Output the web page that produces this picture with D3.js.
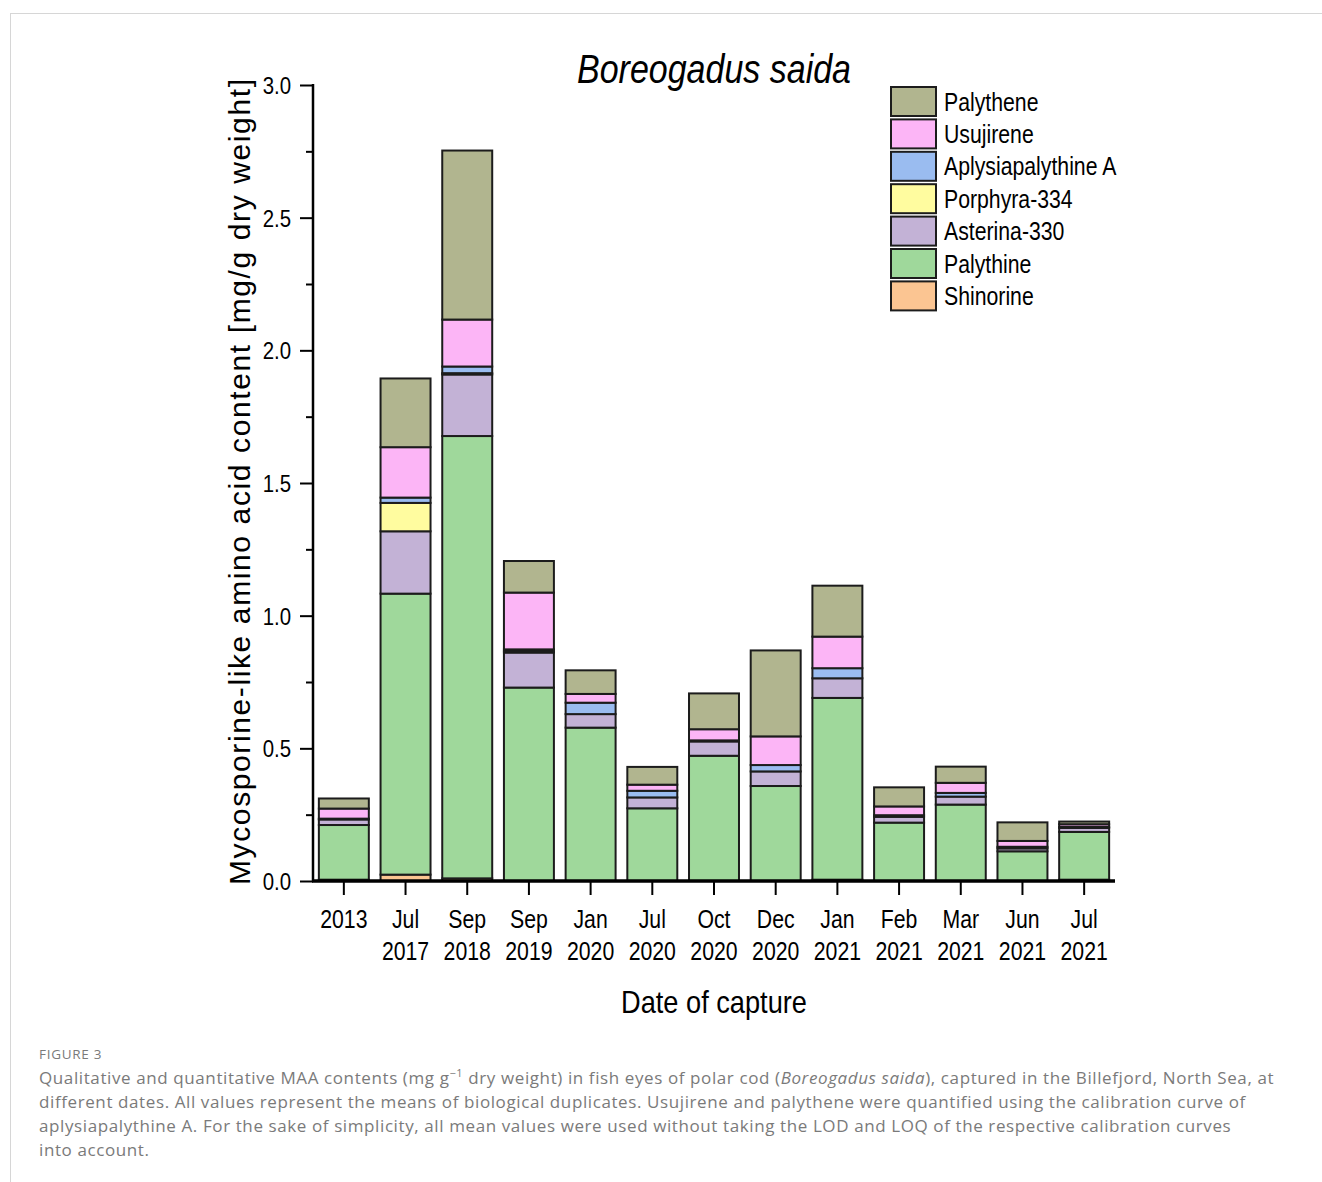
<!DOCTYPE html>
<html>
<head>
<meta charset="utf-8">
<script src="https://cdn.jsdelivr.net/npm/d3@7"></script>
<style>
  html, body { margin: 0; padding: 0; background: #fff; }
  svg { display: block; }
  .narrow { font-family: "Liberation Sans", Arial, sans-serif; }
  .caption { font-family: "Open Sans", "Noto Sans", sans-serif; fill: #7a7a7a; }
</style>
</head>
<body>
<svg id="chart" width="1322" height="1182"></svg>
<script>
// Capture dates (two-line labels)
const dates = [
  ["2013"], ["Jul", "2017"], ["Sep", "2018"], ["Sep", "2019"], ["Jan", "2020"],
  ["Jul", "2020"], ["Oct", "2020"], ["Dec", "2020"], ["Jan", "2021"],
  ["Feb", "2021"], ["Mar", "2021"], ["Jun", "2021"], ["Jul", "2021"]
];

// MAA content per compound, mg/g dry weight (stacked bottom to top)
const shinorine     = [0.005, 0.024, 0.010, 0.000, 0.000, 0.000, 0.000, 0.000, 0.005, 0.000, 0.000, 0.000, 0.005];
const palythine     = [0.206, 1.059, 1.667, 0.729, 0.578, 0.274, 0.472, 0.358, 0.685, 0.220, 0.288, 0.112, 0.180];
const asterina330   = [0.021, 0.235, 0.232, 0.132, 0.051, 0.041, 0.054, 0.055, 0.074, 0.022, 0.030, 0.011, 0.015];
const porphyra334   = [0.000, 0.107, 0.005, 0.005, 0.000, 0.000, 0.000, 0.000, 0.000, 0.000, 0.000, 0.000, 0.000];
const aplysiapalyA  = [0.003, 0.020, 0.025, 0.007, 0.043, 0.025, 0.004, 0.024, 0.038, 0.006, 0.014, 0.006, 0.004];
const usujirene     = [0.038, 0.190, 0.177, 0.214, 0.033, 0.023, 0.042, 0.108, 0.119, 0.033, 0.038, 0.022, 0.010];
const palythene     = [0.038, 0.259, 0.637, 0.119, 0.089, 0.067, 0.135, 0.324, 0.192, 0.072, 0.061, 0.070, 0.010];

const seriesNames = ["Shinorine", "Palythine", "Asterina-330", "Porphyra-334", "Aplysiapalythine A", "Usujirene", "Palythene"];
const seriesValues = [shinorine, palythine, asterina330, porphyra334, aplysiapalyA, usujirene, palythene];
const seriesColors = ["#fbc592", "#9fd89b", "#c3b2d6", "#fffc9f", "#9abcf0", "#fcb5f6", "#b1b58f"];

const yTicks = [0, 0.5, 1.0, 1.5, 2.0, 2.5, 3.0];
const yMinorTicks = [0.25, 0.75, 1.25, 1.75, 2.25, 2.75];

// Horizontal squeeze that gives a condensed sans look
const SQ = 0.85;

const svg = d3.select("#chart");

// Card frame (top and left border)
svg.append("line").attr("x1", 10).attr("x2", 1322).attr("y1", 13.5).attr("y2", 13.5)
  .attr("stroke", "#d6d6d6").attr("stroke-width", 1);
svg.append("line").attr("x1", 10.5).attr("x2", 10.5).attr("y1", 13).attr("y2", 1182)
  .attr("stroke", "#d6d6d6").attr("stroke-width", 1);

const plot = { left: 313, right: 1115, top: 85, bottom: 881 };

const x = d3.scaleBand()
  .domain(d3.range(dates.length))
  .range([plot.left, plot.right])
  .paddingInner(0.19)
  .paddingOuter(0.095);

const y = d3.scaleLinear().domain([0, 3]).range([plot.bottom, plot.top]);

// Condensed text placed at (px, py)
function narrowText(parent, px, py, size, str) {
  return parent.append("text")
    .attr("class", "narrow")
    .attr("transform", `translate(${px},${py}) scale(${SQ},1)`)
    .attr("font-size", size)
    .attr("fill", "#000")
    .text(str);
}

// Stack data
const rows = dates.map((d, i) => {
  const r = { i };
  seriesNames.forEach((n, k) => { r[n] = seriesValues[k][i]; });
  return r;
});
const stacked = d3.stack().keys(seriesNames)(rows);

const barG = svg.append("g");
stacked.forEach((layer, k) => {
  barG.append("g")
    .attr("fill", seriesColors[k])
    .selectAll("rect")
    .data(layer.filter(d => d[1] - d[0] > 0))
    .join("rect")
    .attr("x", d => x(d.data.i))
    .attr("width", x.bandwidth())
    .attr("y", d => y(d[1]))
    .attr("height", d => y(d[0]) - y(d[1]))
    .attr("stroke", "#1c1c1c")
    .attr("stroke-width", 2);
});

// Y axis
const yAxisG = svg.append("g").attr("transform", `translate(${plot.left},0)`);
yAxisG.call(d3.axisLeft(y).tickValues(yTicks).tickFormat(d3.format(".1f")).tickSize(13).tickPadding(9));
yAxisG.append("g").call(d3.axisLeft(y).tickValues(yMinorTicks).tickFormat("").tickSize(7))
  .select(".domain").remove();
yAxisG.selectAll(".tick line").attr("stroke", "#000").attr("stroke-width", 2);
yAxisG.select(".domain").attr("stroke", "#000").attr("stroke-width", 2.5)
  .attr("d", `M0,${plot.bottom + 1}V${plot.top - 1}`);
yAxisG.selectAll(".tick text")
  .attr("class", "narrow").attr("font-size", 24).attr("fill", "#000")
  .attr("x", -22 / SQ)
  .attr("dy", "0.36em")
  .attr("transform", `scale(${SQ},1)`);

// X axis
const xAxisG = svg.append("g").attr("transform", `translate(0,${plot.bottom})`);
xAxisG.call(d3.axisBottom(x).tickSize(14).tickFormat(""));
xAxisG.select(".domain").attr("stroke", "#000").attr("stroke-width", 3.5)
  .attr("d", `M${plot.left - 1},0H${plot.right}`);
xAxisG.selectAll(".tick line").attr("stroke", "#000").attr("stroke-width", 2);
xAxisG.selectAll(".tick").each(function(d) {
  const t = d3.select(this).append("text")
    .attr("class", "narrow")
    .attr("font-size", 25)
    .attr("fill", "#000")
    .attr("text-anchor", "middle")
    .attr("transform", `scale(${SQ},1)`);
  dates[d].forEach((line, j) => {
    t.append("tspan").attr("x", 0).attr("y", 47 + j * 32).text(line);
  });
});

// Axis titles
narrowText(svg, (plot.left + plot.right) / 2, 1013, 32, "Date of capture")
  .attr("text-anchor", "middle");

svg.append("text")
  .attr("transform", `translate(250,${(plot.top + plot.bottom) / 2 - 1}) rotate(-90)`)
  .attr("text-anchor", "middle")
  .attr("font-family", "Liberation Sans, Arial, sans-serif")
  .attr("font-size", 30)
  .attr("fill", "#000")
  .attr("textLength", 806)
  .attr("lengthAdjust", "spacing")
  .text("Mycosporine-like amino acid content [mg/g dry weight]");

// Title
narrowText(svg, 714, 83, 40, "Boreogadus saida")
  .attr("text-anchor", "middle")
  .attr("font-style", "italic");

// Legend (top entry is the top of the stack)
const legendOrder = d3.range(seriesNames.length).reverse();
const legend = svg.append("g").attr("transform", "translate(891,87)");
legendOrder.forEach((k, row) => {
  const g = legend.append("g").attr("transform", `translate(0,${row * 32.4})`);
  g.append("rect").attr("width", 45).attr("height", 29)
    .attr("fill", seriesColors[k]).attr("stroke", "#1c1c1c").attr("stroke-width", 2);
  narrowText(g, 53, 14.5, 25, seriesNames[k]).attr("dy", "0.36em");
});

// Caption
svg.append("text").attr("class", "caption")
  .attr("x", 39).attr("y", 1059).attr("font-size", 13.5)
  .attr("letter-spacing", 0.7)
  .text("FIGURE 3");

const cap = svg.append("text").attr("class", "caption")
  .attr("font-size", 17).attr("letter-spacing", 0.6);
const capLines = [
  null,
  "different dates. All values represent the means of biological duplicates. Usujirene and palythene were quantified using the calibration curve of",
  "aplysiapalythine A. For the sake of simplicity, all mean values were used without taking the LOD and LOQ of the respective calibration curves",
  "into account."
];
// First line with superscript and italic species name
const l1 = cap.append("tspan").attr("x", 39).attr("y", 1084);
l1.append("tspan").text("Qualitative and quantitative MAA contents (mg g");
l1.append("tspan").attr("dy", -7).attr("font-size", 11).text("\u22121");
l1.append("tspan").attr("dy", 7).text(" dry weight) in fish eyes of polar cod (");
l1.append("tspan").attr("font-style", "italic").text("Boreogadus saida");
l1.append("tspan").text("), captured in the Billefjord, North Sea, at");
capLines.forEach((s, i) => {
  if (!s) return;
  cap.append("tspan").attr("x", 39).attr("y", 1084 + i * 24).text(s);
});
</script>
</body>
</html>
